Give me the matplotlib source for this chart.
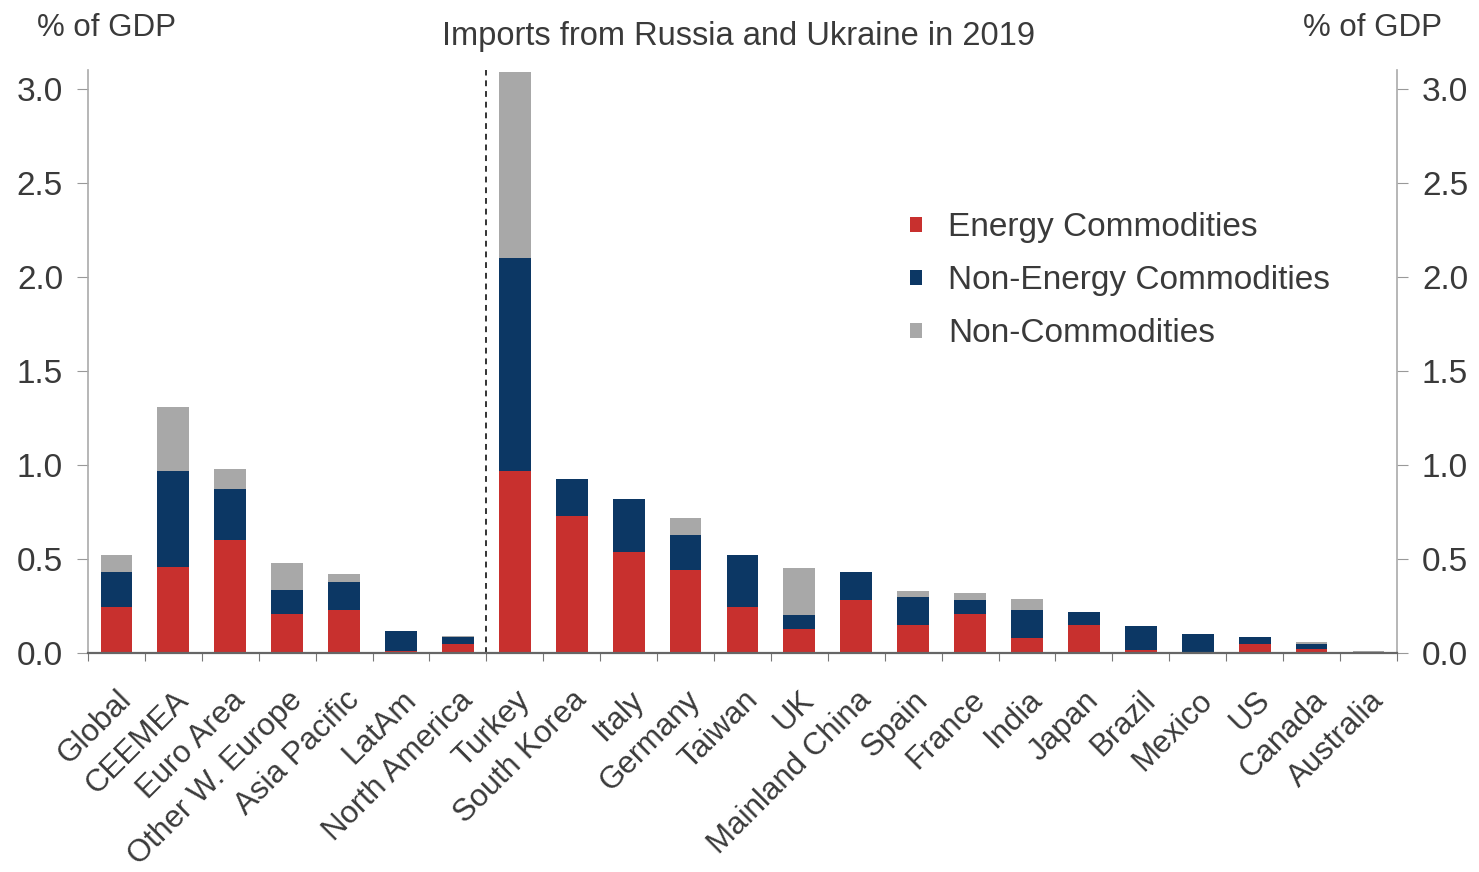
import numpy as np
import matplotlib.pyplot as plt
from matplotlib.ticker import FixedLocator, NullFormatter

plt.rcParams['font.family'] = ['Liberation Sans', 'DejaVu Sans']

countries = ["Global", "CEEMEA", "Euro Area", "Other W. Europe", "Asia Pacific",
             "LatAm", "North America", "Turkey", "South Korea", "Italy", "Germany",
             "Taiwan", "UK", "Mainland China", "Spain", "France", "India", "Japan",
             "Brazil", "Mexico", "US", "Canada", "Australia"]
energy = [0.245, 0.46, 0.60, 0.21, 0.23, 0.01, 0.05, 0.97, 0.73, 0.54, 0.44,
          0.245, 0.13, 0.28, 0.15, 0.21, 0.08, 0.15, 0.015, 0.005, 0.05, 0.02, 0.0]
non_energy = [0.185, 0.51, 0.27, 0.125, 0.15, 0.11, 0.035, 1.13, 0.195, 0.28, 0.19,
              0.275, 0.07, 0.15, 0.15, 0.07, 0.15, 0.07, 0.13, 0.095, 0.035, 0.03, 0.0]
non_comm = [0.09, 0.34, 0.11, 0.145, 0.04, 0.0, 0.005, 0.99, 0.0, 0.0, 0.09,
            0.0, 0.25, 0.0, 0.03, 0.04, 0.06, 0.0, 0.0, 0.0, 0.0, 0.01, 0.01]

red = "#C8302E"
navy = "#0C3764"
grey = "#A8A8A8"
txt = "#3A3A3A"

fig = plt.figure(figsize=(14.79, 8.72), dpi=100)
ax = fig.add_axes([0.0595, 0.251, 0.885, 0.669])

x = np.arange(len(countries))
e = np.array(energy)
n = np.array(non_energy)
g = np.array(non_comm)
w = 0.56
ax.bar(x, e, w, color=red, label="Energy Commodities")
ax.bar(x, n, w, bottom=e, color=navy, label="Non-Energy Commodities")
ax.bar(x, g, w, bottom=e + n, color=grey, label="Non-Commodities")

ax.axvline(6.5, color="#333333", ls=(0, (3, 2.5)), lw=1.4)

ax.set_xlim(-0.5, 22.5)
ax.set_ylim(0, 3.1)
ax.set_yticks(np.arange(0, 3.01, 0.5))
ax.set_yticklabels([f"{v:.1f}" for v in np.arange(0, 3.01, 0.5)])

ax.xaxis.set_major_locator(FixedLocator(np.arange(-0.5, 23, 1)))
ax.xaxis.set_major_formatter(NullFormatter())
ax.xaxis.set_minor_locator(FixedLocator(x))
ax.set_xticklabels(countries, minor=True, rotation=45, ha="right",
                   rotation_mode="anchor", fontsize=22.5, color=txt)
ax.tick_params(axis="x", which="minor", length=0, pad=23)
ax.tick_params(axis="x", which="major", length=6, color="#777777", direction="out")

ax.tick_params(axis="y", which="both", labelsize=24, labelcolor=txt,
               length=8, pad=10, color="#999999", left=True, right=True,
               labelleft=True, labelright=True)

ax.spines["top"].set_visible(False)
for s in ["left", "right"]:
    ax.spines[s].set_color("#AAAAAA")
    ax.spines[s].set_linewidth(1.2)
ax.spines["bottom"].set_color("#666666")
ax.spines["bottom"].set_linewidth(1.6)

fig.text(0.499, 0.958, "Imports from Russia and Ukraine in 2019", ha="center",
         va="center", fontsize=23.5, color=txt)
fig.text(0.072, 0.968, "% of GDP", ha="center", va="center", fontsize=22.5, color=txt)
fig.text(0.928, 0.968, "% of GDP", ha="center", va="center", fontsize=22.5, color=txt)

ax.legend(loc="upper left", bbox_to_anchor=(0.605, 0.807), frameon=False, fontsize=24,
          handlelength=0.35, handleheight=0.35, handletextpad=0.8, labelspacing=0.66,
          labelcolor=txt)

fig.savefig("out.png", dpi=100)
